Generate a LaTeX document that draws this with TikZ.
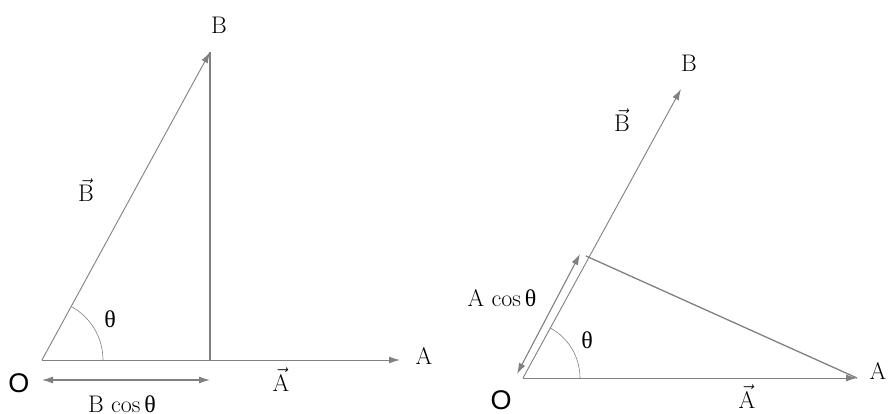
\documentclass[tikz,border=0pt]{standalone}
\usepackage{fontspec}
\newfontfamily\sansO{Liberation Sans}
\newfontfamily\grk{Liberation Serif}
\usetikzlibrary{arrows.meta}
\definecolor{linegray}{HTML}{808080}
\tikzset{
  vec/.style={draw=linegray, line width=0.9pt, -{Latex[length=11pt,width=7pt]}},
  dbl/.style={draw=linegray, line width=1.1pt, {Latex[length=11pt,width=7pt]}-{Latex[length=11pt,width=7pt]}},
  plain/.style={draw=linegray, line width=0.9pt},
  thick gray/.style={draw=linegray, line width=1.6pt},
  lbl/.style={font=\fontsize{24}{28}\selectfont, inner sep=0pt},
  olbl/.style={font=\sansO\fontsize{27}{30}\selectfont, inner sep=0pt}
}
\begin{document}
\begin{tikzpicture}[x=1pt,y=-1pt]
\useasboundingbox (0,0) rectangle (890,414);
% ---------- left diagram ----------
\coordinate (O1) at (42,360);
\coordinate (A1) at (400,360);
\coordinate (B1) at (210,52);
\coordinate (F1) at (210,360);
\coordinate (L1) at (42,380);
\coordinate (R1) at (210,380);
\draw[vec] (O1) -- (A1);
\draw[vec] (O1) -- (B1);
\draw[thick gray] (F1) -- (B1);
\draw[plain, line width=0.6pt] (O1) ++(61,0) arc[start angle=0, end angle=-61.4, radius=61];
\draw[dbl] (L1) -- (R1);
\node[lbl] (tB1) at (219,25) {B};
\node[lbl] (tA1) at (424,356) {A};
\node[lbl] (vA1) at (281,380) {$\vec{\mathrm{A}}$};
\node[lbl] (vB1) at (86,190) {$\vec{\mathrm{B}}$};
\node[lbl] (th1) at (110,319) {\grk θ};
\node[olbl] (tO1) at (19,383) {O};
\node[lbl] (bc) at (122,404) {B cos\,{\grk θ}};
% ---------- right diagram ----------
\coordinate (O2) at (523,378);
\coordinate (A2) at (857,378);
\coordinate (B2) at (681,89);
\coordinate (F2) at (586,256);
\coordinate (L2) at (517,374);
\coordinate (R2) at (580,254);
\draw[vec] (O2) -- (A2);
\draw[vec] (O2) -- (B2);
\draw[thick gray, line width=1.3pt] (F2) -- (A2);
\draw[plain, line width=0.6pt] (O2) ++(57,0) arc[start angle=0, end angle=-61.4, radius=57];
\draw[dbl] (L2) -- (R2);
\node[lbl] (tB2) at (689,63) {B};
\node[lbl] (tA2) at (878,371) {A};
\node[lbl] (vA2) at (747,397) {$\vec{\mathrm{A}}$};
\node[lbl] (vB2) at (622,120) {$\vec{\mathrm{B}}$};
\node[lbl] (th2) at (587,340) {\grk θ};
\node[olbl] (tO2) at (501,400) {O};
\node[lbl] (ac) at (502,298) {A cos\,{\grk θ}};
\end{tikzpicture}
\end{document}
